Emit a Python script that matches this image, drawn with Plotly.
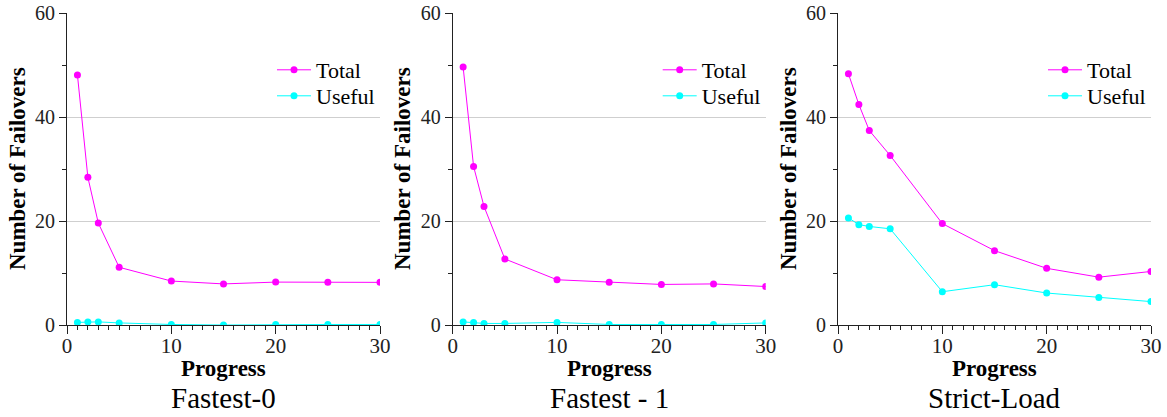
import plotly.graph_objects as go
from plotly.subplots import make_subplots

progress = [1, 2, 3, 5, 10, 15, 20, 25, 30]
panel_titles = ["Fastest-0", "Fastest - 1", "Strict-Load"]
series_names = ["Total", "Useful"]

fastest0_total = [48.1, 28.4, 19.6, 11.1, 8.45, 7.9, 8.25, 8.2, 8.2]
fastest0_useful = [0.5, 0.6, 0.6, 0.4, 0.1, 0.0, 0.1, 0.1, 0.1]
fastest1_total = [49.6, 30.5, 22.8, 12.7, 8.7, 8.2, 7.8, 7.9, 7.4]
fastest1_useful = [0.6, 0.5, 0.3, 0.3, 0.5, 0.1, 0.1, 0.1, 0.4]
strict_total = [48.3, 42.4, 37.4, 32.6, 19.5, 14.3, 10.9, 9.2, 10.3]
strict_useful = [20.6, 19.3, 18.95, 18.5, 6.4, 7.75, 6.15, 5.3, 4.5]

y_ticks = [0, 20, 40, 60]
x_ticks = [0, 10, 20, 30]
x_title = "Progress"
y_title = "Number of Failovers"

colors = {"Total": "#FF00FF", "Useful": "#00FFFF"}
FONT = "Liberation Serif, Times New Roman, serif"

panels = [
    (fastest0_total, fastest0_useful),
    (fastest1_total, fastest1_useful),
    (strict_total, strict_useful),
]

W, H = 1167, 417
L, R, T, B = 67, 16, 13, 92
plot_w = W - L - R
plot_h = H - T - B
px_domains = [(67, 380), (452.7, 765.7), (838, 1151)]
domains = [((a - L) / plot_w, (b - L) / plot_w) for a, b in px_domains]
ytitle_px = [17, 402, 788]


def px_x(p):
    return (p - L) / plot_w


def px_y(p):
    return (H - B - p) / plot_h


fig = make_subplots(rows=1, cols=3)

legend_top_px = {"Total": 49, "Useful": 75}
k = 0
for i, (tot, use) in enumerate(panels):
    for name, vals in zip(series_names, (tot, use)):
        lname = "legend" if k == 0 else f"legend{k+1}"
        fig.add_trace(
            go.Scatter(
                x=progress, y=vals, name=name, mode="lines+markers",
                line=dict(color=colors[name], width=1),
                marker=dict(color=colors[name], size=7),
                legend=lname,
            ),
            row=1, col=i + 1,
        )
        fig.layout[lname] = dict(
            x=px_x(px_domains[i][0] + 205), y=px_y(legend_top_px[name]),
            xanchor="left", yanchor="top", xref="paper", yref="paper",
            font=dict(family=FONT, size=22, color="black"),
            bgcolor="rgba(0,0,0,0)", itemwidth=34,
        )
        k += 1

axis_common = dict(
    showline=True, linecolor="#222", linewidth=1,
    ticks="outside", tickcolor="#222", tickwidth=1,
    zeroline=False, automargin=False,
)

for i in range(3):
    xa = "xaxis" if i == 0 else f"xaxis{i+1}"
    ya = "yaxis" if i == 0 else f"yaxis{i+1}"
    fig.layout[xa].update(
        domain=list(domains[i]), range=[0, 30], tickvals=x_ticks,
        showgrid=False, ticklen=8, ticklabelstandoff=-6,
        tickfont=dict(family=FONT, size=21, color="#222"),
        minor=dict(dtick=1, tick0=0, ticks="outside", ticklen=4, tickcolor="#222", showgrid=False),
        **axis_common,
    )
    fig.layout[ya].update(
        range=[0, 60], tickvals=y_ticks, ticklen=7,
        tickfont=dict(family=FONT, size=20, color="#222"),
        showgrid=True, gridcolor="#cfcfcf", gridwidth=1,
        minor=dict(dtick=10, tick0=0, ticks="outside", ticklen=4, tickcolor="#222", showgrid=False),
        **axis_common,
    )
    cx = (domains[i][0] + domains[i][1]) / 2
    fig.add_annotation(
        text=f"<b>{x_title}</b>", x=cx, y=px_y(368),
        xref="paper", yref="paper", xanchor="center", yanchor="middle",
        showarrow=False, font=dict(family=FONT, size=23, color="black"),
    )
    fig.add_annotation(
        text=f"<b>{y_title}</b>", x=px_x(ytitle_px[i]), y=0.5, textangle=-90,
        xref="paper", yref="paper", xanchor="center", yanchor="middle",
        showarrow=False, font=dict(family=FONT, size=23, color="black"),
    )
    fig.add_annotation(
        text=panel_titles[i], x=cx, y=px_y(398),
        xref="paper", yref="paper", xanchor="center", yanchor="middle",
        showarrow=False, font=dict(family=FONT, size=29, color="black"),
    )

fig.update_layout(
    width=W, height=H, margin=dict(l=L, r=R, t=T, b=B),
    plot_bgcolor="white", paper_bgcolor="white",
    font=dict(family=FONT, color="black"),
    showlegend=True,
)

fig.write_html(
    "out.html",
    config={"displayModeBar": False},
    post_script="document.body.style.margin='0';",
)
